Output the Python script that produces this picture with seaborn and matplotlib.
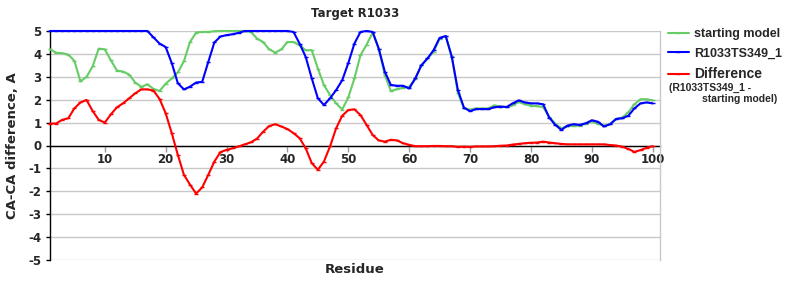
import matplotlib
matplotlib.use("Agg")
import matplotlib.pyplot as plt
import seaborn as sns

residue = list(range(1, 101))

starting_model = [
    4.20, 4.05, 4.03, 3.97, 3.70, 2.80, 3.00, 3.45, 4.23, 4.20,
    3.72, 3.27, 3.23, 3.10, 2.75, 2.56, 2.67, 2.47, 2.38, 2.70,
    2.93, 3.19, 3.68, 4.52, 4.93, 4.96, 4.96, 4.99, 5.00, 5.00,
    5.00, 5.00, 5.00, 4.96, 4.67, 4.52, 4.20, 4.06, 4.20, 4.52,
    4.52, 4.38, 4.16, 4.16, 3.36, 2.64, 2.20, 1.84, 1.57, 2.10,
    2.93, 3.94, 4.40, 4.93, 4.23, 3.07, 2.38, 2.46, 2.52, 2.57,
    2.90, 3.50, 3.80, 4.09, 4.67, 4.78, 3.90, 2.30, 1.62, 1.57,
    1.62, 1.62, 1.62, 1.75, 1.70, 1.68, 1.75, 1.90, 1.80, 1.74,
    1.72, 1.68, 1.25, 0.95, 0.75, 0.85, 0.85, 0.87, 0.95, 1.05,
    0.95, 0.87, 0.93, 1.16, 1.22, 1.45, 1.80, 2.02, 2.02, 1.97,
]

r1033ts349_1 = [
    5.00, 5.00, 5.00, 5.00, 5.00, 5.00, 5.00, 5.00, 5.00, 5.00,
    5.00, 5.00, 5.00, 5.00, 5.00, 5.00, 5.00, 4.72, 4.45, 4.30,
    3.60, 2.72, 2.45, 2.57, 2.75, 2.78, 3.65, 4.50, 4.76, 4.82,
    4.86, 4.92, 5.00, 5.00, 5.00, 5.00, 5.00, 5.00, 5.00, 5.00,
    4.96, 4.45, 3.87, 2.93, 2.06, 1.77, 2.06, 2.42, 2.85, 3.60,
    4.45, 4.96, 5.00, 4.96, 4.23, 3.22, 2.64, 2.61, 2.61, 2.49,
    2.93, 3.50, 3.80, 4.16, 4.70, 4.78, 3.87, 2.42, 1.65, 1.50,
    1.59, 1.59, 1.59, 1.67, 1.70, 1.68, 1.84, 1.97, 1.88, 1.84,
    1.84, 1.80, 1.22, 0.90, 0.68, 0.87, 0.93, 0.90, 0.97, 1.10,
    1.04, 0.83, 0.93, 1.16, 1.19, 1.30, 1.62, 1.84, 1.88, 1.84,
]

difference = [
    0.96, 0.96, 1.12, 1.19, 1.62, 1.88, 1.99, 1.51, 1.12, 1.00,
    1.36, 1.67, 1.84, 2.06, 2.28, 2.45, 2.45, 2.40, 2.03, 1.41,
    0.54, -0.41, -1.28, -1.71, -2.10, -1.83, -1.28, -0.70, -0.29, -0.19,
    -0.12, -0.04, 0.05, 0.14, 0.30, 0.60, 0.85, 0.93, 0.83, 0.72,
    0.54, 0.32, -0.12, -0.77, -1.06, -0.70, -0.04, 0.75, 1.30, 1.55,
    1.58, 1.33, 0.90, 0.46, 0.22, 0.17, 0.25, 0.22, 0.10, 0.03,
    -0.03, -0.03, -0.03, -0.02, -0.02, -0.03, -0.03, -0.06, -0.05, -0.06,
    -0.04, -0.04, -0.04, -0.03, -0.01, 0.00, 0.04, 0.07, 0.10, 0.12,
    0.13, 0.17, 0.13, 0.10, 0.07, 0.05, 0.05, 0.05, 0.05, 0.05,
    0.05, 0.05, 0.02, 0.00, -0.05, -0.15, -0.28, -0.20, -0.10, -0.03,
]

x_ticks = [10, 20, 30, 40, 50, 60, 70, 80, 90, 100]
y_ticks = [-5, -4, -3, -2, -1, 0, 1, 2, 3, 4, 5]

sns.set_theme(style="white")
plt.rcParams['font.family'] = ['DejaVu Sans']

fig = plt.figure(figsize=(8, 3), dpi=100)
ax = fig.add_axes([50 / 800, 40 / 300, 610 / 800, 229 / 300])

series = [
    (starting_model, "#66CC66", "starting model"),
    (r1033ts349_1, "#0000FF", "R1033TS349_1"),
    (difference, "#FF0000", "Difference"),
]
for vals, col, lab in series:
    sns.lineplot(x=residue, y=vals, ax=ax, color=col, linewidth=1.5,
                 marker="_", markersize=3.5, markeredgewidth=1.0,
                 markeredgecolor=col, label=lab, clip_on=False, zorder=3)

ax.set_xlim(1, 101.2)
ax.set_ylim(-5, 5)
ax.set_xticks(x_ticks)
ax.set_yticks(y_ticks)
ax.set_yticklabels([str(v) for v in y_ticks])

ax.yaxis.grid(True, color="#c8c8c8", linewidth=1)
ax.xaxis.grid(False)
ax.set_axisbelow(True)

ax.spines["top"].set_visible(False)
ax.spines["right"].set_color("#c8c8c8")
ax.spines["right"].set_linewidth(1)
ax.spines["left"].set_color("black")
ax.spines["left"].set_linewidth(1)
ax.spines["bottom"].set_position(("data", 0))
ax.spines["bottom"].set_color("black")
ax.spines["bottom"].set_linewidth(1)
ax.spines["bottom"].set_zorder(2)

ax.tick_params(axis="x", direction="out", length=4, width=1, color="#999999",
               labelsize=8.5, pad=1.5, bottom=True)
ax.tick_params(axis="y", direction="out", length=3, width=1, color="black",
               labelsize=8.5, pad=3, left=True)
for t in ax.get_xticklabels() + ax.get_yticklabels():
    t.set_fontweight("bold")

ax.set_xlabel("Residue", fontsize=9.5, fontweight="bold")
ax.xaxis.set_label_coords(0.5, -0.015)
ax.set_ylabel("CA-CA difference, A", fontsize=9.5, fontweight="bold")
ax.yaxis.set_label_coords(-0.05, 0.5)

fig.text(355 / 800, 1 - 13 / 300, "Target R1033", ha="center", va="center",
         fontsize=8.5, fontweight="bold")

leg = ax.legend(loc="upper left", bbox_to_anchor=(668 / 800, 1 - 28 / 300),
                bbox_transform=fig.transFigure, frameon=False,
                prop={"family": "Liberation Sans", "weight": "bold", "size": 9},
                handlelength=1.65, handletextpad=0.45, labelspacing=0.62,
                borderaxespad=0, borderpad=0)
leg.get_texts()[2].set_fontsize(10)
fig.text(669 / 800, 1 - 88 / 300, "(R1033TS349_1 -", ha="left", va="center",
         fontsize=7.5, fontweight="bold", family="Liberation Sans")
fig.text(702 / 800, 1 - 99 / 300, "starting model)", ha="left", va="center",
         fontsize=7.5, fontweight="bold", family="Liberation Sans")

fig.savefig("out.png", dpi=100)
